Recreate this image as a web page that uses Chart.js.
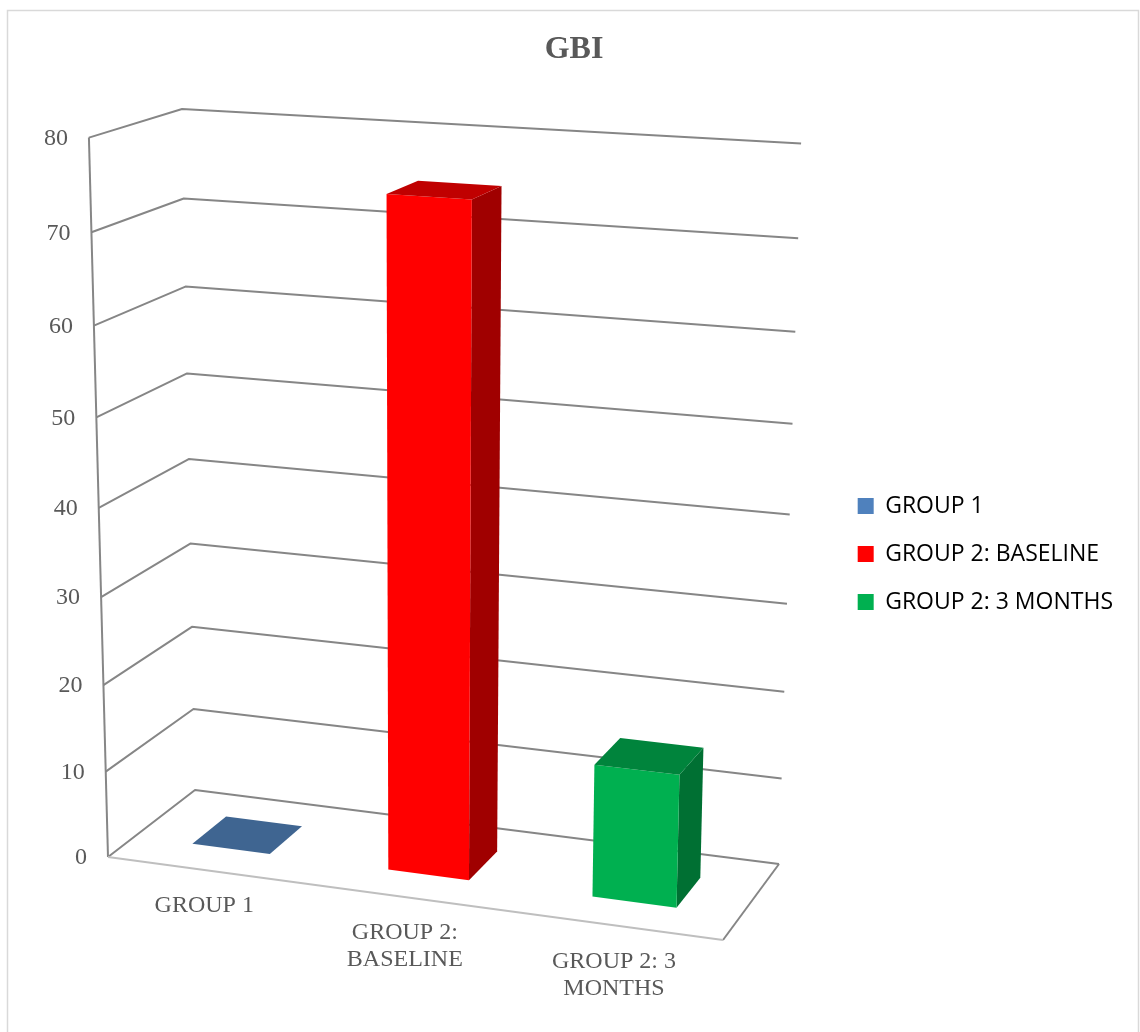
<!DOCTYPE html>
<html>
<head>
<meta charset="utf-8">
<script src="https://cdn.jsdelivr.net/npm/chart.js@4"></script>
<style>
  html, body { margin: 0; padding: 0; background: #fff; }
  #wrap { width: 1140px; height: 1032px; }
</style>
</head>
<body>
<div id="wrap"><canvas id="gbiChart" width="1140" height="1032"></canvas></div>
<script>
const categories = ['GROUP 1', 'GROUP 2: BASELINE', 'GROUP 2: 3 MONTHS'];
const categoryLines = [['GROUP 1'], ['GROUP 2:', 'BASELINE'], ['GROUP 2: 3', 'MONTHS']];
const gbiValues = [0, 74.8, 15];
const frontColors = ['#4F81BD', '#FF0000', '#00B050'];
const topColors = ['#3F6591', '#C00000', '#00843C'];
const sideColors = ['#2F4C6E', '#A00000', '#007033'];

// where the floor and the walls of the 3d box land on the page
const floorCorners = [[108, 857], [723, 940], [779, 864], [195, 790]]; // front-left, front-right, back-right, back-left
const wallTops = [[0, 0, 88, 138], [0, 1, 183, 110], [1, 1, 801, 142]]; // u, w, x, y at the top of the value axis
const barDepth = [0.3, 0.7];

// square to quad, then one more column for the height
function floorMatrix(q) {
  const [x0, y0] = q[0], [x1, y1] = q[1], [x2, y2] = q[2], [x3, y3] = q[3];
  const dx1 = x1 - x2, dx2 = x3 - x2, sx = x0 - x1 + x2 - x3;
  const dy1 = y1 - y2, dy2 = y3 - y2, sy = y0 - y1 + y2 - y3;
  const d = dx1 * dy2 - dx2 * dy1;
  const g = (sx * dy2 - dx2 * sy) / d;
  const h = (dx1 * sy - sx * dy1) / d;
  return [x1 - x0 + g * x1, x3 - x0 + h * x3, x0, y1 - y0 + g * y1, y3 - y0 + h * y3, y0, g, h, 1];
}

function heightColumn(m, tops) {
  // least squares for (cx, cy, cz) over the known top corners
  const A = [[0, 0, 0], [0, 0, 0], [0, 0, 0]], b = [0, 0, 0];
  const add = (row, r) => {
    for (let i = 0; i < 3; i++) {
      b[i] += row[i] * r;
      for (let j = 0; j < 3; j++) A[i][j] += row[i] * row[j];
    }
  };
  tops.forEach(([u, w, sx, sy]) => {
    const X = m[0] * u + m[1] * w + m[2];
    const Y = m[3] * u + m[4] * w + m[5];
    const W = m[6] * u + m[7] * w + m[8];
    add([1, 0, -sx], sx * W - X);
    add([0, 1, -sy], sy * W - Y);
  });
  const det = (a) => a[0][0] * (a[1][1] * a[2][2] - a[1][2] * a[2][1])
    - a[0][1] * (a[1][0] * a[2][2] - a[1][2] * a[2][0])
    + a[0][2] * (a[1][0] * a[2][1] - a[1][1] * a[2][0]);
  const D = det(A);
  return [0, 1, 2].map((k) => det(A.map((row, i) => row.map((v, j) => (j === k ? b[i] : v)))) / D);
}

const fm = floorMatrix(floorCorners);
const hc = heightColumn(fm, wallTops);

// u across the floor, v up the axis, w into the depth, all 0..1
function project(u, v, w) {
  const W = fm[6] * u + fm[7] * w + fm[8] + hc[2] * v;
  return [
    (fm[0] * u + fm[1] * w + fm[2] + hc[0] * v) / W,
    (fm[3] * u + fm[4] * w + fm[5] + hc[1] * v) / W
  ];
}

function polyline(ctx, pts, color, width) {
  ctx.beginPath();
  pts.forEach((p, i) => (i ? ctx.lineTo(p[0], p[1]) : ctx.moveTo(p[0], p[1])));
  ctx.strokeStyle = color;
  ctx.lineWidth = width;
  ctx.stroke();
}

function face(ctx, pts, color) {
  ctx.beginPath();
  pts.forEach((p, i) => (i ? ctx.lineTo(p[0], p[1]) : ctx.moveTo(p[0], p[1])));
  ctx.closePath();
  ctx.fillStyle = color;
  ctx.fill();
}

const box3d = {
  id: 'box3d',
  beforeDraw(chart) {
    const ctx = chart.ctx;
    ctx.save();
    ctx.strokeStyle = '#D9D9D9';
    ctx.lineWidth = 1.5;
    ctx.strokeRect(7.5, 10.5, 1131, 1060);
    ctx.restore();
  },
  beforeDatasetsDraw(chart) {
    const ctx = chart.ctx, area = chart.chartArea;
    const yScale = chart.scales.y;
    const gridColor = '#868686';
    ctx.save();
    ctx.lineJoin = 'round';

    // value gridlines: along the side wall, then along the back wall
    yScale.ticks.forEach((t) => {
      const v = (area.bottom - yScale.getPixelForValue(t.value)) / area.height;
      polyline(ctx, [project(0, v, 0), project(0, v, 1), project(1, v, 1)], gridColor, 2);
      const p = project(0, v, 0);
      ctx.fillStyle = '#595959';
      ctx.font = '24px "Liberation Serif"';
      ctx.textAlign = 'right';
      ctx.textBaseline = 'middle';
      ctx.fillText(String(t.value), p[0] - 21, p[1] + 1);
    });
    polyline(ctx, [project(0, 0, 0), project(0, 1, 0)], gridColor, 2);
    polyline(ctx, [project(1, 0, 1), project(1, 0, 0)], gridColor, 2);
    polyline(ctx, [project(0, 0, 0), project(1, 0, 0)], '#BFBFBF', 2);

    // bars: sizes come from the bar elements, then go through the projection
    const meta = chart.getDatasetMeta(0);
    meta.data.forEach((bar, i) => {
      const u0 = (bar.x - bar.width / 2 - area.left) / area.width;
      const u1 = (bar.x + bar.width / 2 - area.left) / area.width;
      const v = (bar.base - bar.y) / area.height;
      const [w0, w1] = barDepth;
      if (v > 0) {
        face(ctx, [project(u1, 0, w0), project(u1, 0, w1), project(u1, v, w1), project(u1, v, w0)], sideColors[i]);
        face(ctx, [project(u0, 0, w0), project(u1, 0, w0), project(u1, v, w0), project(u0, v, w0)], frontColors[i]);
      }
      face(ctx, [project(u0, v, w0), project(u1, v, w0), project(u1, v, w1), project(u0, v, w1)], topColors[i]);
    });

    // category labels under the front edge of the floor
    ctx.fillStyle = '#595959';
    ctx.font = '24px "Liberation Serif"';
    ctx.textAlign = 'center';
    ctx.textBaseline = 'middle';
    meta.data.forEach((bar, i) => {
      const p = project((bar.x - area.left) / area.width, 0, 0);
      categoryLines[i].forEach((line, k) => ctx.fillText(line, p[0] - 1, p[1] + 36 + k * 27));
    });
    ctx.restore();
    return false;
  }
};

new Chart(document.getElementById('gbiChart'), {
  type: 'bar',
  data: {
    labels: categories,
    datasets: [{
      label: 'GBI',
      data: gbiValues,
      backgroundColor: frontColors,
      categoryPercentage: 1,
      barPercentage: 0.4
    }]
  },
  options: {
    responsive: false,
    animation: false,
    // negative bottom padding only pushes the legend's centre down; the marks go through project()
    layout: { padding: { left: 25, right: 17, bottom: -76 } },
    scales: {
      x: { display: false },
      y: { display: false, min: 0, max: 80, ticks: { stepSize: 10 } }
    },
    plugins: {
      title: {
        display: true,
        text: 'GBI',
        color: '#595959',
        font: { family: '"Liberation Serif"', size: 32, weight: 'bold' },
        padding: { top: 31, bottom: 10 }
      },
      legend: {
        position: 'right',
        labels: {
          boxWidth: 16,
          boxHeight: 16,
          padding: 25,
          color: '#000',
          font: { family: '"Open Sans"', size: 23 },
          generateLabels: () => categories.map((c, i) => ({
            text: c,
            fillStyle: frontColors[i],
            strokeStyle: frontColors[i],
            lineWidth: 0,
            index: i
          }))
        }
      },
      tooltip: { enabled: false }
    }
  },
  plugins: [box3d]
});
</script>
</body>
</html>
